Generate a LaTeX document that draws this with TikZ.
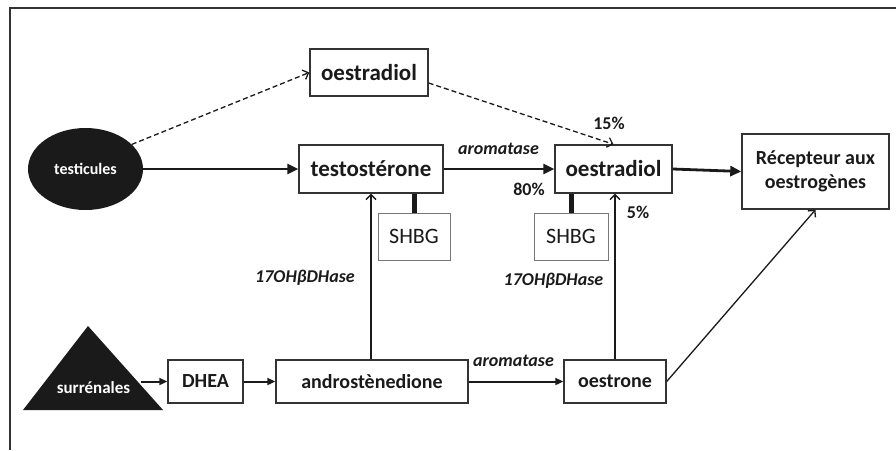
\documentclass[tikz,border=0pt]{standalone}
\usepackage{fontspec}
\setmainfont{Carlito}
\usetikzlibrary{arrows.meta,shapes.geometric}
\definecolor{ink}{HTML}{1A1A1A}
\definecolor{boxc}{HTML}{333333}
\definecolor{shbgc}{HTML}{777777}
\begin{document}
\begin{tikzpicture}[x=1pt,y=-1pt,
  box/.style={draw=boxc, line width=1.4pt, inner sep=0pt, text=ink,
    font=\bfseries\fontsize{20}{24}\selectfont},
  bigtxt/.style={font=\bfseries\fontsize{23}{26}\selectfont},
  shbgbox/.style={draw=shbgc, line width=1pt, inner sep=0pt, text=ink,
    font=\fontsize{22}{24}\selectfont},
  lab/.style={inner sep=0pt, text=ink, font=\bfseries\itshape\fontsize{18}{20}\selectfont},
  pct/.style={inner sep=0pt, text=ink, font=\bfseries\fontsize{18}{20}\selectfont},
  bigarrow/.style={draw=ink, line width=2.8pt, -{Triangle[length=11pt,width=10pt]}},
  midarrow/.style={draw=ink, line width=2pt, -{Triangle[length=8pt,width=7pt]}},
  thinarrow/.style={draw=ink, line width=1.3pt, -{Straight Barb[length=5pt,width=10pt]}},
  dasharrow/.style={draw=ink, line width=1.3pt, dash pattern=on 5pt off 3pt,
    -{Straight Barb[length=5pt,width=10pt]}},
  link/.style={draw=ink, line width=5pt},
]
\useasboundingbox (0,0) rectangle (896,450);
% frame
\draw[boxc, line width=2pt] (10,450) -- (10,8) -- (896,8);

% nodes
\node[box, bigtxt, minimum width=118pt, minimum height=47pt] (oestT) at (369,72.5) {oestradiol};
\node[ellipse, fill=ink, minimum width=115pt, minimum height=82pt, inner sep=0pt,
  text=white, font=\bfseries\fontsize{16}{18}\selectfont] (testi) at (85.5,169) {testicules};
\node[box, bigtxt, minimum width=144pt, minimum height=48pt] (testo) at (371,169) {testostérone};
\node[box, bigtxt, minimum width=117pt, minimum height=48pt] (oestM) at (613.5,169) {oestradiol};
\node[box, align=center, minimum width=147pt, minimum height=75pt] (recep) at (815.5,171.5)
  {Récepteur aux\\oestrogènes};
\node[shbgbox, minimum width=72pt, minimum height=47pt] (shbgA) at (414,236.5) {SHBG};
\node[shbgbox, minimum width=74pt, minimum height=47pt] (shbgB) at (571,236.5) {SHBG};

\fill[ink] (23,410) -- (88,326) -- (163,410) -- cycle;
\node[inner sep=0pt, text=white, font=\bfseries\fontsize{17}{20}\selectfont] (surr) at (93.5,388) {surrénales};
\coordinate (surrR) at (141,381.5);

\node[box, minimum width=75pt, minimum height=43pt] (dhea) at (205.5,381.5) {DHEA};
\node[box, minimum width=192pt, minimum height=43pt] (andro) at (372,381.5) {androstènedione};
\node[box, minimum width=102pt, minimum height=43pt] (oestrone) at (615,381.5) {oestrone};

% labels
\node[lab] (arom1) at (498.5,149) {aromatase};
\node[lab] (arom2) at (513.5,361) {aromatase};
\node[pct] (p80) at (529,189) {80\%};
\node[pct] (p15) at (609,123) {15\%};
\node[pct] (p5) at (638,212) {5\%};
\node[lab] (dh1) at (305,278) {17OHβDHase};
\node[lab] (dh2) at (553.5,281) {17OHβDHase};

% connectors
\draw[dasharrow] (testi.28) -- (oestT.west);
\draw[dasharrow] (oestT.-10) -- (oestM.north);
\draw[bigarrow] (testi.east) -- (testo.west);
\draw[bigarrow] (testo.east) -- (oestM.west);
\draw[bigarrow] (oestM.east) -- (recep.west);
\draw[link] (shbgA.north) -- (shbgA.north |- testo.south);
\draw[link] (shbgB.north) -- (shbgB.north |- oestM.south);
\draw[midarrow] (surrR) -- (dhea.west);
\draw[midarrow] (dhea.east) -- (andro.west);
\draw[midarrow] (andro.east) -- (oestrone.west);
\draw[thinarrow] (testo.south |- andro.north) -- (testo.south);
\draw[thinarrow] (oestrone.north) -- (oestrone.north |- oestM.south);
\draw[thinarrow] (oestrone.east) -- (recep.south);
\end{tikzpicture}
\end{document}
